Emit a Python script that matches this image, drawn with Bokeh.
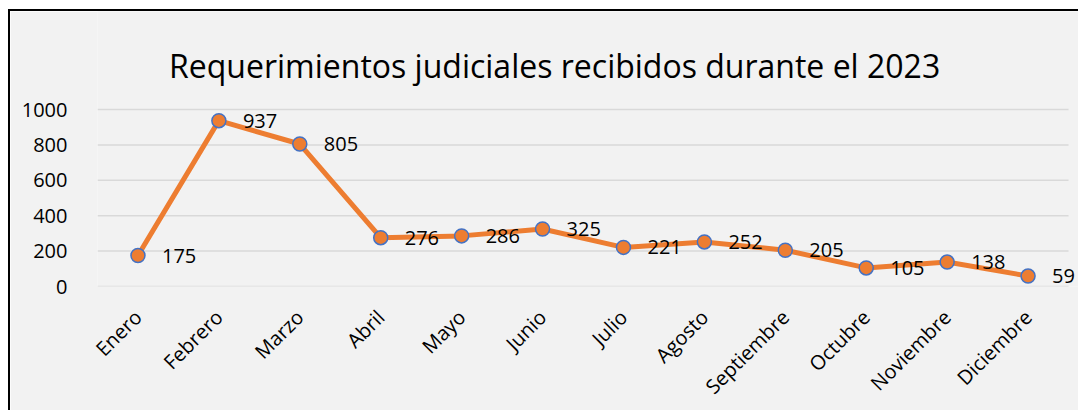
import math
from bokeh.plotting import figure
from bokeh.models import ColumnDataSource, FixedTicker, LabelSet, Range1d
from bokeh.core.properties import value
from bokeh.embed import file_html
from bokeh.resources import INLINE

# ---- data ----
months = ["Enero", "Febrero", "Marzo", "Abril", "Mayo", "Junio", "Julio",
          "Agosto", "Septiembre", "Octubre", "Noviembre", "Diciembre"]
values = [175, 937, 805, 276, 286, 325, 221, 252, 205, 105, 138, 59]
y_ticks = [0, 200, 400, 600, 800, 1000]
title_text = "Requerimientos judiciales recibidos durante el 2023"

FONT = "Open Sans"
BG = "#f2f2f2"
ORANGE = "#ed7d31"
BLUE = "#4472c4"

n = len(months)
xs = list(range(n))
src = ColumnDataSource(dict(x=xs, y=values, lab=[str(v) for v in values]))
grid_src = ColumnDataSource(dict(x0=[-0.5] * len(y_ticks), x1=[n - 0.5] * len(y_ticks),
                                 y=y_ticks))

# frame extends over title area (top) and right margin so labels are not clipped
p = figure(width=1070, height=401, output_backend="svg", toolbar_location=None,
           x_range=Range1d(-0.5, 11.648), y_range=Range1d(0, 1553.7),
           min_border_left=87, min_border_right=0, min_border_top=0,
           min_border_bottom=126)
p.title.visible = False
p.background_fill_color = BG
p.border_fill_color = BG
p.outline_line_color = None
p.styles = {"margin-left": "8px", "margin-top": "9px",
            "border-left": "2px solid black", "border-top": "2px solid black"}

# axes
p.xaxis.ticker = FixedTicker(ticks=xs)
p.xaxis.major_label_overrides = {i: m for i, m in enumerate(months)}
p.xaxis.major_label_orientation = math.pi / 4
p.yaxis.ticker = FixedTicker(ticks=y_ticks)
for ax in (p.xaxis, p.yaxis):
    ax.axis_line_color = None
    ax.major_tick_line_color = None
    ax.minor_tick_line_color = None
    ax.major_label_text_font = FONT
    ax.major_label_text_font_size = "20px"
    ax.major_label_text_color = "#000000"
p.yaxis.major_label_standoff = 24
p.xaxis.major_label_standoff = 21

p.xgrid.grid_line_color = None
p.ygrid.grid_line_color = None

# horizontal gridlines only over the category span
p.segment("x0", "y", "x1", "y", source=grid_src, line_color="#d9d9d9", line_width=1.5)

# series
p.line("x", "y", source=src, line_color=ORANGE, line_width=5)
p.scatter("x", "y", source=src, size=14, fill_color=ORANGE, line_color=BLUE,
          line_width=1.5)

labels = LabelSet(x="x", y="y", text="lab", source=src, x_offset=24,
                  text_align="left", text_baseline="middle",
                  text_font=value(FONT), text_font_size=value("20px"),
                  text_color="#000000")
p.add_layout(labels)

# title
p.text(x=[5.149], y=[1248.6], text=[title_text], text_align="center",
       text_baseline="alphabetic", text_font=value(FONT),
       text_font_size=value("32px"), text_color="#000000")

open("out.html", "w").write(file_html(p, INLINE))
